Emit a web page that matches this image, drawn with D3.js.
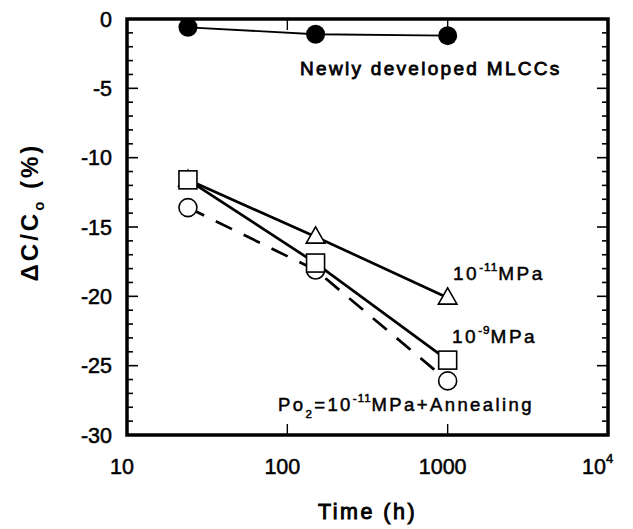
<!DOCTYPE html>
<html>
<head>
<meta charset="utf-8">
<script src="https://cdn.jsdelivr.net/npm/d3@7"></script>
<style>
  html, body { margin: 0; padding: 0; background: #fff; }
  svg { display: block; font-family: "Liberation Sans", Arial, Helvetica, sans-serif; }
  .heavy { stroke: #000; stroke-width: 0.5px; paint-order: stroke; }
</style>
</head>
<body>
<svg id="chart" width="633" height="529"></svg>
<script>
// Aging time (h) at each measurement
const times = [24, 150, 1000];

// Capacitance change ΔC/Co (%) per sample group
const newlyDeveloped = [-0.6, -1.1, -1.2];   // filled circles
const po2Minus11 = [-11.6, -15.7, -20.1];    // triangles, 10^-11 MPa
const po2Minus9 = [-11.6, -17.6, -24.6];     // squares, 10^-9 MPa
const po2Annealed = [-13.6, -18.1, -26.1];   // open circles, dashed

// Axis ticks
const xTicks = [10, 100, 1000, 10000];
const yMajorTicks = [0, -5, -10, -15, -20, -25, -30];
const yMinorTicks = d3.range(0, -31, -1);

const svg = d3.select("#chart");
const m = { left: 127, right: 25, top: 19, bottom: 94 };
const W = 633, H = 529;

const x = d3.scaleLog().domain([10, 10000]).range([m.left, W - m.right]);
const y = d3.scaleLinear().domain([-30, 0]).range([H - m.bottom, m.top]);

const ink = "#000";

// Minor and major inward ticks on left and right
const g = svg.append("g");
yMinorTicks.forEach(v => {
  const major = v % 5 === 0;
  const len = major ? 11 : 6;
  g.append("line").attr("x1", x.range()[0]).attr("x2", x.range()[0] + len)
    .attr("y1", y(v)).attr("y2", y(v)).attr("stroke", ink).attr("stroke-width", 1.6);
  g.append("line").attr("x1", x.range()[1]).attr("x2", x.range()[1] - len)
    .attr("y1", y(v)).attr("y2", y(v)).attr("stroke", ink).attr("stroke-width", 1.6);
});
// Decade ticks on top and bottom
xTicks.slice(1, -1).forEach(v => {
  g.append("line").attr("x1", x(v)).attr("x2", x(v))
    .attr("y1", y.range()[0]).attr("y2", y.range()[0] - 11).attr("stroke", ink).attr("stroke-width", 1.4);
  g.append("line").attr("x1", x(v)).attr("x2", x(v))
    .attr("y1", y.range()[1]).attr("y2", y.range()[1] + 11).attr("stroke", ink).attr("stroke-width", 1.4);
});

// Frame
svg.append("rect")
  .attr("x", x.range()[0]).attr("y", y.range()[1])
  .attr("width", x.range()[1] - x.range()[0]).attr("height", y.range()[0] - y.range()[1])
  .attr("fill", "none").attr("stroke", ink).attr("stroke-width", 3.5);

// Y tick labels
svg.append("g").selectAll("text").data(yMajorTicks).join("text")
  .attr("class", "heavy")
  .attr("x", x.range()[0] - 15).attr("y", d => y(d)).attr("dy", "0.36em")
  .attr("text-anchor", "end").attr("font-size", 21.5).attr("fill", ink)
  .text(d => d === 0 ? "0" : "-" + Math.abs(d));

// X tick labels
const xl = svg.append("g");
xTicks.forEach(v => {
  const t = xl.append("text").attr("class", "heavy").attr("y", y.range()[0] + 39)
    .attr("font-size", 21.5).attr("fill", ink);
  if (v === 10000) {
    t.attr("x", x(v) - 26).attr("text-anchor", "start");
    t.append("tspan").text("10");
    t.append("tspan").attr("font-size", 13).attr("dy", -11).text("4");
  } else {
    t.attr("x", x(v) - 5).attr("text-anchor", "middle").text(String(v));
  }
});

// Axis titles
svg.append("text").attr("class", "heavy")
  .attr("x", (x.range()[0] + x.range()[1]) / 2).attr("y", H - 10)
  .attr("text-anchor", "middle").attr("font-size", 21.5)
  .attr("letter-spacing", 2.5).attr("fill", ink).style("stroke-width", "0.9px").text("Time (h)");

const yt = svg.append("text")
  .attr("transform", "translate(38,212) rotate(-90)")
  .attr("text-anchor", "middle").attr("font-size", 24).attr("font-weight", "bold")
  .attr("letter-spacing", 3).attr("fill", ink);
yt.append("tspan").text("\u0394C/C");
yt.append("tspan").attr("font-size", 15).attr("dy", 6).text("o");
yt.append("tspan").attr("dy", -6).text(" (%)");

// Series
const pts = vals => vals.map((v, i) => [x(times[i]), y(v)]);
const line = d3.line();

const series = [
  { vals: newlyDeveloped, width: 1.8, dash: null },
  { vals: po2Minus11, width: 2.7, dash: null },
  { vals: po2Minus9, width: 2.7, dash: null },
  { vals: po2Annealed, width: 2.7, dash: "18 13" }
];
series.forEach(s => {
  svg.append("path").attr("d", line(pts(s.vals)))
    .attr("fill", "none").attr("stroke", ink)
    .attr("stroke-width", s.width).attr("stroke-dasharray", s.dash);
});

// Markers
const mk = svg.append("g");
pts(po2Annealed).forEach(([px, py]) => {
  mk.append("circle").attr("cx", px).attr("cy", py).attr("r", 9)
    .attr("fill", "#fff").attr("stroke", ink).attr("stroke-width", 1.6);
});
pts(po2Minus11).forEach(([px, py]) => {
  mk.append("path").attr("d", d3.symbol(d3.symbolTriangle, 150)())
    .attr("transform", `translate(${px},${py + 1})`)
    .attr("fill", "#fff").attr("stroke", ink).attr("stroke-width", 1.6);
});
pts(po2Minus9).forEach(([px, py]) => {
  mk.append("rect").attr("x", px - 9).attr("y", py - 9).attr("width", 18).attr("height", 18)
    .attr("fill", "#fff").attr("stroke", ink).attr("stroke-width", 1.6);
});
pts(newlyDeveloped).forEach(([px, py]) => {
  mk.append("circle").attr("cx", px).attr("cy", py).attr("r", 9.5).attr("fill", ink);
});

// Series labels
const lab = (tx, ty, parts, size, spacing) => {
  const t = svg.append("text").attr("class", "heavy").attr("x", tx).attr("y", ty)
    .attr("font-size", size).attr("letter-spacing", spacing).attr("fill", ink);
  parts.forEach(p => {
    const s = t.append("tspan").text(p.t);
    if (p.sup) s.attr("font-size", size * 0.62).attr("dy", -9).attr("letter-spacing", 1);
    if (p.sub) s.attr("font-size", size * 0.62).attr("dy", 7);
    if (p.back) s.attr("dy", p.back);
  });
  return t;
};

lab(300, 75, [{ t: "Newly developed MLCCs" }], 19, 2.3).style("stroke-width", "0.8px");
lab(453, 280, [{ t: "10" }, { t: "-11", sup: true }, { t: "MPa", back: 9 }], 19, 2.5);
lab(452, 343, [{ t: "10" }, { t: "-9", sup: true }, { t: "MPa", back: 9 }], 19, 2.5);
lab(278, 411, [{ t: "Po" }, { t: "2", sub: true }, { t: "=10", back: -7 }, { t: "-11", sup: true }, { t: "MPa+Annealing", back: 9 }], 18.5, 2.4);
</script>
</body>
</html>
